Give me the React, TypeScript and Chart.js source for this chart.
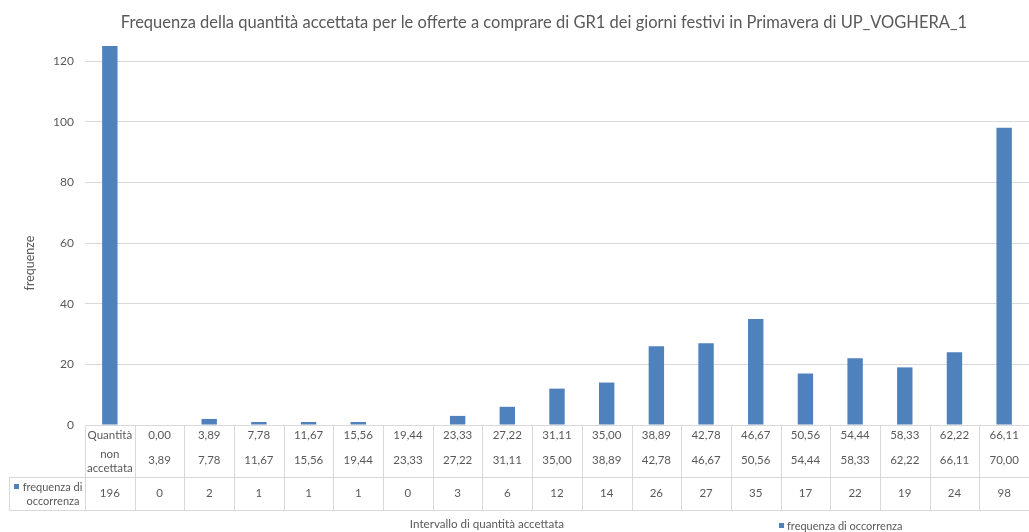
import React, { useEffect, useRef } from "react";
import { Chart, registerables } from "chart.js";

Chart.register(...registerables);

const chartTitle =
  "Frequenza della quantità accettata per le offerte a comprare di GR1 dei giorni festivi in Primavera di UP_VOGHERA_1";
const yAxisTitle = "frequenze";
const xAxisTitle = "Intervallo di quantità accettata";
const seriesName = "frequenza di occorrenza";
const firstCategory = ["Quantità", "non", "accettata"];
const lowerBounds = [
  "0,00", "3,89", "7,78", "11,67", "15,56", "19,44", "23,33", "27,22", "31,11",
  "35,00", "38,89", "42,78", "46,67", "50,56", "54,44", "58,33", "62,22", "66,11",
];
const upperBounds = [
  "3,89", "7,78", "11,67", "15,56", "19,44", "23,33", "27,22", "31,11", "35,00",
  "38,89", "42,78", "46,67", "50,56", "54,44", "58,33", "62,22", "66,11", "70,00",
];
const frequencies = [196, 0, 2, 1, 1, 1, 0, 3, 6, 12, 14, 26, 27, 35, 17, 22, 19, 24, 98];
const yMax = 125;
const yStep = 20;

const FONT = "Lato, 'Noto Sans', sans-serif";
const TEXT = "#595959";
const LINE = "#d9d9d9";
const BAR = "#4f81bd";

const tablePlugin = {
  id: "excelTable",
  afterDraw(chart: any) {
    const ctx = chart.ctx as CanvasRenderingContext2D;
    const xs = chart.scales.x;
    const area = chart.chartArea;
    const n = chart.data.labels.length;
    const w = (area.right - area.left) / n;
    const top = area.bottom;
    const mid = top + 52;
    const bot = top + 85;
    const legendLeft = 9;

    ctx.save();
    // table lines
    ctx.strokeStyle = LINE;
    ctx.lineWidth = 1;
    ctx.beginPath();
    ctx.moveTo(area.left, Math.round(top) + 0.5);
    ctx.lineTo(area.right, Math.round(top) + 0.5);
    ctx.moveTo(legendLeft, mid + 0.5);
    ctx.lineTo(area.right, mid + 0.5);
    ctx.moveTo(legendLeft, bot + 0.5);
    ctx.lineTo(area.right, bot + 0.5);
    for (let k = 0; k <= n; k++) {
      const x = Math.round(area.left + k * w) + 0.5;
      ctx.moveTo(x, top);
      ctx.lineTo(x, bot);
    }
    ctx.moveTo(legendLeft + 0.5, mid);
    ctx.lineTo(legendLeft + 0.5, bot);
    ctx.stroke();

    // table text
    ctx.fillStyle = TEXT;
    ctx.font = `11.5px ${FONT}`;
    ctx.textAlign = "center";
    ctx.textBaseline = "middle";
    const c0 = xs.getPixelForValue(0);
    ctx.fillText(firstCategory[0], c0, top + 10);
    ctx.fillText(firstCategory[1], c0, top + 29);
    ctx.fillText(firstCategory[2], c0, top + 43);
    for (let i = 0; i < lowerBounds.length; i++) {
      const cx = xs.getPixelForValue(i + 1);
      ctx.fillText(lowerBounds[i], cx, top + 10);
      ctx.fillText(upperBounds[i], cx, top + 35);
    }
    const ds = chart.data.datasets[0].data;
    for (let i = 0; i < n; i++) {
      ctx.fillText(String(ds[i]), xs.getPixelForValue(i), mid + 16.5);
    }
    // legend key in table
    ctx.fillStyle = BAR;
    ctx.fillRect(14, mid + 7, 5, 5);
    ctx.fillStyle = TEXT;
    ctx.font = `11px ${FONT}`;
    ctx.fillText("frequenza di", 52.5, mid + 10);
    ctx.fillText("occorrenza", 53, mid + 24);

    // x axis title
    ctx.font = `11.6px ${FONT}`;
    ctx.fillText(xAxisTitle, 487, 524);

    // bottom legend
    ctx.font = `11px ${FONT}`;
    ctx.textAlign = "left";
    ctx.fillStyle = BAR;
    ctx.fillRect(779, 523, 5, 5);
    ctx.fillStyle = TEXT;
    ctx.fillText(seriesName, 787, 526.5);

    // y axis title
    ctx.save();
    ctx.translate(30, 263);
    ctx.rotate(-Math.PI / 2);
    ctx.textAlign = "center";
    ctx.font = `12.5px ${FONT}`;
    ctx.fillText(yAxisTitle, 0, 0);
    ctx.restore();

    // chart title
    ctx.textAlign = "center";
    ctx.textBaseline = "alphabetic";
    ctx.font = `16.5px ${FONT}`;
    ctx.fillText(chartTitle, 544, 28.3);
    ctx.restore();
  },
};

export default function App() {
  const ref = useRef<HTMLCanvasElement>(null);
  useEffect(() => {
    const labels = [
      firstCategory.join(" "),
      ...lowerBounds.map((l, i) => `${l} - ${upperBounds[i]}`),
    ];
    const chart = new Chart(ref.current as HTMLCanvasElement, {
      type: "bar",
      data: {
        labels,
        datasets: [
          {
            label: seriesName,
            data: frequencies,
            backgroundColor: BAR,
            borderWidth: 0,
            barPercentage: 0.31,
            categoryPercentage: 1,
          },
        ],
      },
      options: {
        responsive: false,
        animation: false,
        layout: { padding: { top: 46, right: 0, left: 0, bottom: 0 } },
        plugins: {
          legend: { display: false },
          tooltip: { enabled: false },
          title: { display: false },
        },
        scales: {
          x: {
            grid: { display: false },
            border: { display: false },
            ticks: { display: false },
            afterFit: (s: any) => {
              s.height = 107;
            },
          },
          y: {
            min: 0,
            max: yMax,
            ticks: {
              stepSize: yStep,
              padding: 11,
              color: TEXT,
              font: { family: FONT, size: 12 },
            },
            grid: { color: LINE, drawTicks: false },
            border: { display: false },
            afterBuildTicks: (s: any) => {
              s.ticks = s.ticks.filter((t: any) => t.value % yStep === 0);
            },
            afterFit: (s: any) => {
              s.width = 85;
            },
          },
        },
      } as any,
      plugins: [tablePlugin],
    });
    return () => chart.destroy();
  }, []);
  return (
    <div style={{ position: "absolute", left: 0, top: 0, width: 1029, height: 532, background: "#fff" }}>
      <canvas ref={ref} width={1029} height={532} style={{ display: "block" }} />
    </div>
  );
}
